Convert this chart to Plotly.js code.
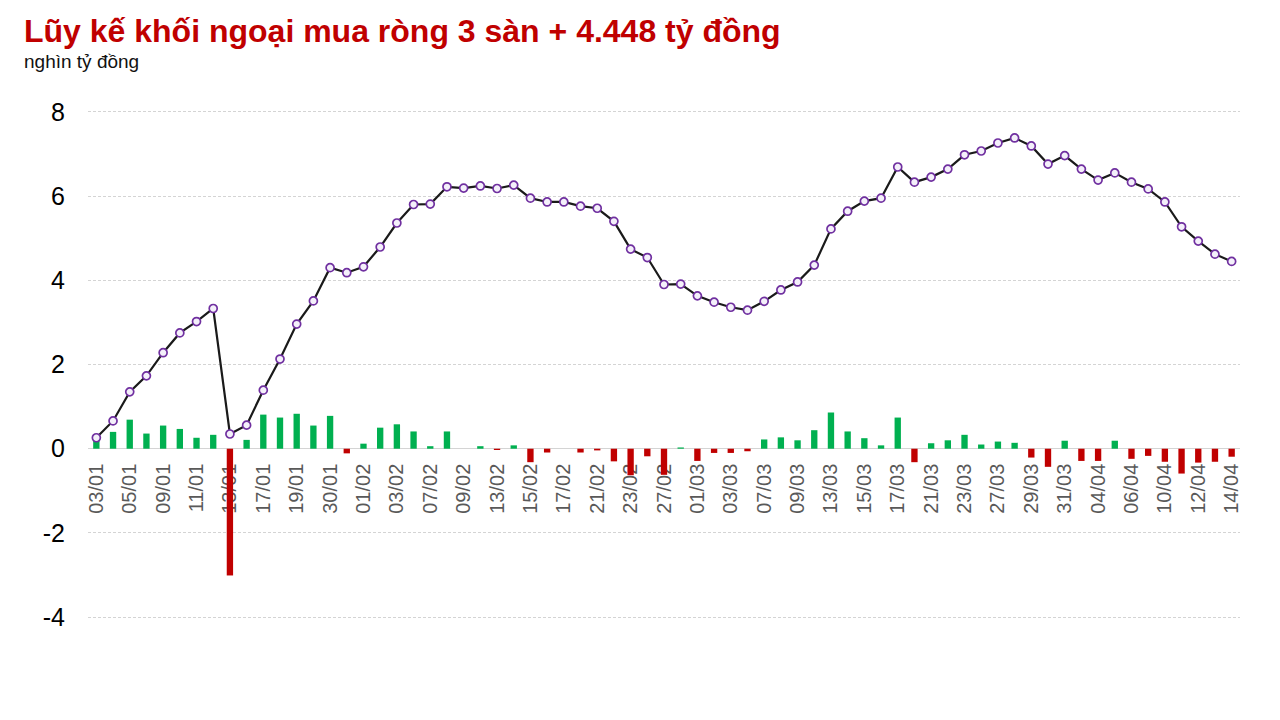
<!DOCTYPE html>
<html>
<head>
<meta charset="utf-8">
<script src="https://cdn.plot.ly/plotly-3.0.1.min.js"></script>
<style>
  html, body { margin: 0; padding: 0; background: #fff; }
  #chart { width: 1280px; height: 720px; }
</style>
</head>
<body>
<div id="chart"></div>
<script>
// ngày giao dịch
const dates = [
  '03/01', '04/01', '05/01', '06/01', '09/01', '10/01', '11/01', '12/01', '13/01', '16/01',
  '17/01', '18/01', '19/01', '27/01', '30/01', '31/01', '01/02', '02/02', '03/02', '06/02',
  '07/02', '08/02', '09/02', '10/02', '13/02', '14/02', '15/02', '16/02', '17/02', '20/02',
  '21/02', '22/02', '23/02', '24/02', '27/02', '28/02', '01/03', '02/03', '03/03', '06/03',
  '07/03', '08/03', '09/03', '10/03', '13/03', '14/03', '15/03', '16/03', '17/03', '20/03',
  '21/03', '22/03', '23/03', '24/03', '27/03', '28/03', '29/03', '30/03', '31/03', '03/04',
  '04/04', '05/04', '06/04', '07/04', '10/04', '11/04', '12/04', '13/04', '14/04'
];

// mua ròng theo phiên (nghìn tỷ đồng)
const dailyNet = [
  0.26, 0.40, 0.69, 0.36, 0.55, 0.47, 0.26, 0.33, -3.01, 0.21,
  0.81, 0.74, 0.83, 0.55, 0.78, -0.11, 0.12, 0.50, 0.58, 0.41,
  0.06, 0.41, 0.00, 0.06, -0.03, 0.08, -0.32, -0.09, 0.00, -0.09,
  -0.04, -0.30, -0.63, -0.18, -0.62, 0.03, -0.29, -0.10, -0.10, -0.06,
  0.22, 0.27, 0.20, 0.44, 0.86, 0.41, 0.25, 0.08, 0.74, -0.32,
  0.13, 0.20, 0.33, 0.10, 0.17, 0.14, -0.21, -0.43, 0.19, -0.29,
  -0.29, 0.19, -0.24, -0.17, -0.31, -0.59, -0.33, -0.31, -0.19
];

// lũy kế (nghìn tỷ đồng)
const cumulative = [
  0.26, 0.66, 1.35, 1.73, 2.28, 2.75, 3.02, 3.33, 0.35, 0.56,
  1.39, 2.13, 2.96, 3.51, 4.30, 4.18, 4.32, 4.79, 5.36, 5.80,
  5.81, 6.22, 6.19, 6.24, 6.18, 6.26, 5.95, 5.86, 5.86, 5.76,
  5.71, 5.40, 4.74, 4.54, 3.90, 3.91, 3.63, 3.48, 3.36, 3.29,
  3.50, 3.77, 3.96, 4.36, 5.22, 5.64, 5.88, 5.95, 6.69, 6.33,
  6.45, 6.64, 6.98, 7.07, 7.26, 7.38, 7.19, 6.76, 6.96, 6.64,
  6.38, 6.55, 6.33, 6.17, 5.86, 5.27, 4.93, 4.62, 4.448
];

const yTicks = [-4, -2, 0, 2, 4, 6, 8];
const yTickText = ['-4', '-2', '0', '2', '4', '6', '8'];
const yMin = -4.4, yMax = 8.4;

const tickDates = dates.filter((d, i) => i % 2 === 0);
const barColors = dailyNet.map(v => (v < 0 ? '#c00000' : '#00b050'));

const bars = {
  type: 'bar',
  x: dates,
  y: dailyNet,
  width: 0.38,
  marker: { color: barColors },
  hoverinfo: 'skip'
};

const line = {
  type: 'scatter',
  mode: 'lines+markers',
  x: dates,
  y: cumulative,
  line: { color: '#1a1a1a', width: 2.2 },
  marker: {
    symbol: 'circle',
    size: 8,
    color: '#f4f0fa',
    line: { color: '#7030a0', width: 1.7 }
  },
  hoverinfo: 'skip'
};

const layout = {
  width: 1280,
  height: 720,
  paper_bgcolor: '#fff',
  plot_bgcolor: '#fff',
  showlegend: false,
  margin: { l: 88, r: 40, t: 95, b: 86 },
  font: { family: 'Liberation Sans, Arial, sans-serif' },
  title: {
    text: '<b>Lũy kế khối ngoại mua ròng 3 sàn + 4.448 tỷ đồng</b>',
    font: { size: 32, color: '#c00000', family: 'Liberation Sans, Arial, sans-serif' },
    xref: 'container', yref: 'container',
    x: 24 / 1280, xanchor: 'left',
    y: 1 - 31 / 720, yanchor: 'middle'
  },
  annotations: [{
    text: 'nghìn tỷ đồng',
    xref: 'paper', yref: 'paper',
    x: -66 / 1152, xanchor: 'left',
    y: 1 + (95 - 62) / 539, yanchor: 'middle',
    showarrow: false,
    font: { size: 19, color: '#111' }
  }],
  xaxis: {
    type: 'category',
    range: [-0.5, dates.length - 0.5],
    tickmode: 'array',
    tickvals: tickDates,
    ticktext: tickDates,
    tickangle: -90,
    tickfont: { size: 20, color: '#595959' },
    ticks: '',
    ticklabelstandoff: 10,
    showgrid: false,
    showline: false,
    zeroline: false,
    anchor: 'free',
    position: (0 - yMin) / (yMax - yMin),
    layer: 'below traces',
    fixedrange: true
  },
  yaxis: {
    range: [yMin, yMax],
    tickmode: 'array',
    tickvals: yTicks,
    ticktext: yTickText,
    tickfont: { size: 25, color: '#000' },
    ticks: '',
    ticklabelstandoff: 22,
    showgrid: true,
    gridcolor: '#d4d4d4',
    griddash: '3px,2px',
    gridwidth: 1,
    zeroline: true,
    zerolinecolor: '#d4d4d4',
    zerolinewidth: 1.5,
    showline: false,
    fixedrange: true
  },
  bargap: 0.6
};

Plotly.newPlot('chart', [bars, line], layout, { staticPlot: true, displayModeBar: false });
</script>
</body>
</html>
